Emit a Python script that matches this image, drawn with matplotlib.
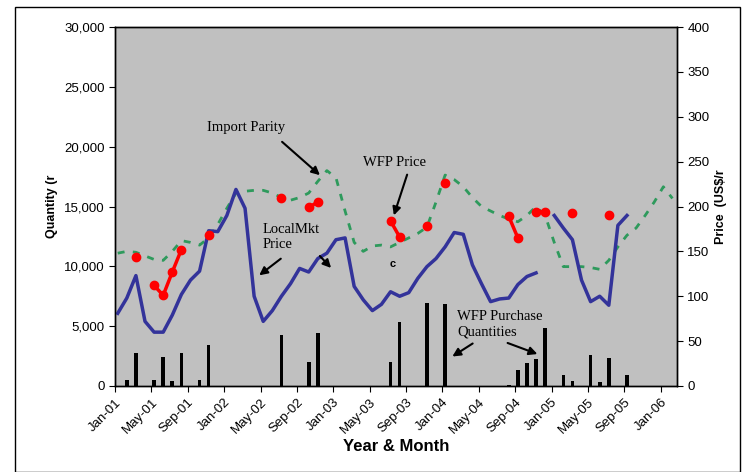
import numpy as np
import matplotlib
matplotlib.use("Agg")
import matplotlib.pyplot as plt
from matplotlib.patches import Rectangle

plt.rcParams['font.family'] = ['Liberation Sans', 'DejaVu Sans']

tick_labels = ["Jan-01","May-01","Sep-01","Jan-02","May-02","Sep-02","Jan-03","May-03",
               "Sep-03","Jan-04","May-04","Sep-04","Jan-05","May-05","Sep-05","Jan-06"]

# WFP purchase quantities (month index -> quantity)
bar_months = [1,2,4,5,6,7,9,10,18,21,22,30,31,34,36,43,44,45,46,47,49,50,52,53,54,56]
bar_qty = [500,2780,500,2400,400,2780,500,3450,4260,1980,4430,1980,5320,6910,6870,
           100,1340,1900,2260,4820,920,400,2630,300,2340,920]

# Local market price (US$/t), NaN = gap
local_price = [81,98,123,72,60,60,79,102,118,128,173,172,190,219,198,100,72,84,100,114,
               131,127,142,148,163,165,111,96,84,91,105,100,104,120,133,142,155,171,169,135,
               114,94,97,98,113,122,126,np.nan,190,176,163,118,94,100,90,179,190]

# Import parity (US$/t)
import_parity = [148,150,149,145,141,140,150,162,160,157,165,180,198,215,217,218,218,215,
                 210,207,210,215,228,240,232,195,160,150,156,157,155,160,165,170,177,205,
                 235,230,222,210,200,195,190,186,183,190,200,190,160,133,133,133,132,130,
                 140,155,168,176,190,205,222,209]

# WFP price (US$/t), NaN = no purchase
wfp_price = [np.nan,np.nan,144,np.nan,112,101,127,152,np.nan,np.nan,168,np.nan,np.nan,np.nan,
             np.nan,np.nan,np.nan,np.nan,209,np.nan,np.nan,199,205,np.nan,np.nan,np.nan,np.nan,
             np.nan,np.nan,np.nan,184,166,np.nan,np.nan,178,np.nan,226,np.nan,np.nan,np.nan,
             np.nan,np.nan,np.nan,189,165,np.nan,194,194,np.nan,np.nan,193,np.nan,np.nan,np.nan,
             190]

off = 0.3
fig = plt.figure(figsize=(7.5, 4.72), dpi=100)
fig.patches.append(Rectangle((15/750, 0), 725/750, 1-7/472, transform=fig.transFigure,
                             fill=False, edgecolor="black", linewidth=1))
ax = fig.add_axes([115/750, 1-386/472, 562/750, 359/472])
ax.set_facecolor("#c0c0c0")
ax.bar(np.array(bar_months)+off, bar_qty, width=0.4, color="black", zorder=2)
ax.set_ylim(0, 30000)
ax.set_yticks(range(0, 30001, 5000))
ax.set_yticklabels([f"{v:,}" for v in range(0, 30001, 5000)], fontsize=9.5)
ax.set_xlim(0, 61.8)
ax.set_xticks(np.arange(len(tick_labels))*4)
ax.set_xticklabels(tick_labels, rotation=45, ha="right", fontsize=9.5, rotation_mode="anchor")
ax.set_ylabel("Quantity (r", fontsize=9, fontweight="bold")
ax.set_xlabel("Year & Month", fontsize=12, fontweight="bold", labelpad=2)

ax2 = ax.twinx()
ax2.set_ylim(0, 400)
ax2.set_yticks(range(0, 401, 50))
ax2.tick_params(labelsize=9.5)
ax2.set_ylabel("Price  (US$/r", fontsize=9, fontweight="bold")
x = np.arange(len(local_price)) + off
ax2.plot(np.arange(len(import_parity))+off, import_parity, color="#2e9a5c", lw=2,
         ls=(0, (2.5, 3)))
ax2.plot(x, local_price, color="#33339a", lw=2.5)
ax2.plot(np.arange(len(wfp_price))+off, wfp_price, color="red", lw=2.5, marker="o", ms=6)
for a in (ax, ax2):
    a.tick_params(direction="out", length=4)
    for s in a.spines.values():
        s.set_linewidth(1)

ap = dict(arrowstyle="-|>", color="black", lw=1.5, mutation_scale=12)
def ann(txt, txt_px):
    fig.text(txt_px[0]/750, txt_px[1]/472, txt, fontsize=10.5, family="Liberation Serif",
             ha="left", va="center", linespacing=1.25)
def arr(p0, p1):
    ax2.annotate("", xy=(p1[0], 472-p1[1]), xycoords="figure pixels",
                 xytext=(p0[0], 472-p0[1]), textcoords="figure pixels", arrowprops=ap)
ann("Import Parity", (207, 472-128))
arr((280, 140), (322, 177))
ann("WFP Price", (363, 472-163))
arr((408, 172), (393, 218))
ann("LocalMkt\nPrice", (263, 472-237))
arr((318, 254), (333, 270))
arr((283, 257), (257, 277))
ann("WFP Purchase\nQuantities", (457, 472-324))
arr((475, 342), (450, 358))
arr((505, 342), (540, 355))
fig.text(393/750, 1-264/472, "c", fontsize=8, fontweight="bold", ha="center", va="center")
fig.savefig("out.png", dpi=100)
